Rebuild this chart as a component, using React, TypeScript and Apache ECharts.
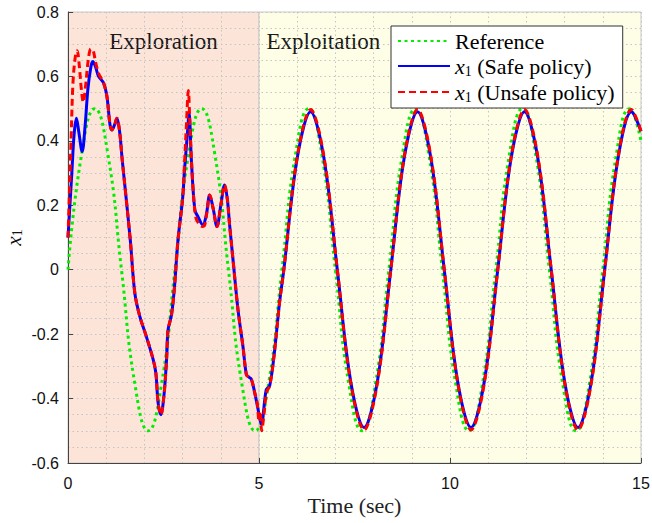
import React, { useEffect, useRef } from 'react';
import * as echarts from 'echarts';

// Reference trajectory (green dotted)
const refT = [0, 0.35, 0.7, 1.05, 1.4, 1.75, 2.1, 2.45, 2.8, 3.15, 3.5, 3.85, 4.2, 4.55, 4.9, 5.25, 5.6, 5.95, 6.3, 6.65, 7, 7.35, 7.7, 8.05, 8.4, 8.75, 9.1, 9.45, 9.8, 10.15, 10.5, 10.85, 11.2, 11.55, 11.9, 12.25, 12.6, 12.95, 13.3, 13.65, 14, 14.35, 14.7, 15];
const refY = [0, 0.354, 0.5, 0.354, 0, -0.354, -0.5, -0.354, 0, 0.354, 0.5, 0.354, 0, -0.354, -0.5, -0.354, 0, 0.354, 0.5, 0.354, 0, -0.354, -0.5, -0.354, 0, 0.354, 0.5, 0.354, 0, -0.354, -0.5, -0.354, 0, 0.354, 0.5, 0.354, 0, -0.354, -0.5, -0.354, 0, 0.354, 0.5, 0.4];

// x1 with the safe policy (blue solid)
const safeT = [0, 0.05, 0.1, 0.16, 0.22, 0.28, 0.37, 0.45, 0.52, 0.6, 0.65, 0.72, 0.8, 0.93, 1.02, 1.1, 1.15, 1.22, 1.28, 1.35, 1.42, 1.5, 1.63, 1.75, 1.88, 2.05, 2.23, 2.3, 2.36, 2.43, 2.51, 2.58, 2.62, 2.71, 2.79, 2.88, 3.0, 3.05, 3.12, 3.17, 3.23, 3.32, 3.4, 3.53, 3.62, 3.71, 3.8, 3.9, 4.0, 4.1, 4.17, 4.23, 4.32, 4.45, 4.58, 4.67, 4.73, 4.8, 4.89, 4.97, 5.06, 5.19, 5.28, 5.4, 5.54, 5.65, 6.0, 6.35, 6.7, 7.05, 7.4, 7.75, 8.1, 8.45, 8.8, 9.15, 9.5, 9.85, 10.2, 10.55, 10.9, 11.25, 11.6, 11.95, 12.3, 12.65, 13.0, 13.35, 13.7, 14.05, 14.4, 14.75, 15];
const safeY = [0.1, 0.2, 0.3, 0.42, 0.47, 0.43, 0.367, 0.45, 0.56, 0.63, 0.646, 0.63, 0.6, 0.58, 0.537, 0.45, 0.434, 0.45, 0.47, 0.43, 0.34, 0.248, 0.093, -0.073, -0.145, -0.207, -0.279, -0.321, -0.414, -0.45, -0.393, -0.279, -0.186, -0.14, -0.05, 0.093, 0.22, 0.31, 0.413, 0.486, 0.34, 0.186, 0.165, 0.139, 0.17, 0.232, 0.19, 0.134, 0.2, 0.263, 0.22, 0.14, 0.031, -0.124, -0.238, -0.326, -0.333, -0.34, -0.383, -0.43, -0.48, -0.372, -0.36, -0.26, -0.1, 0, 0.346, 0.49, 0.346, 0, -0.346, -0.49, -0.346, 0, 0.346, 0.49, 0.346, 0, -0.346, -0.49, -0.346, 0, 0.346, 0.49, 0.346, 0, -0.346, -0.49, -0.346, 0, 0.346, 0.49, 0.43];

// x1 with the unsafe policy (red dashed)
const unsafeT = [0, 0.04, 0.08, 0.13, 0.19, 0.24, 0.29, 0.35, 0.4, 0.46, 0.53, 0.6, 0.66, 0.72, 0.8, 0.93, 1.02, 1.1, 1.15, 1.22, 1.28, 1.35, 1.42, 1.5, 1.63, 1.75, 1.88, 2.05, 2.23, 2.3, 2.36, 2.43, 2.51, 2.58, 2.62, 2.71, 2.79, 2.88, 3.0, 3.05, 3.1, 3.15, 3.2, 3.27, 3.35, 3.45, 3.52, 3.58, 3.65, 3.71, 3.8, 3.9, 4.0, 4.1, 4.17, 4.23, 4.32, 4.45, 4.58, 4.67, 4.73, 4.8, 4.89, 4.95, 5.0, 5.03, 5.07, 5.12, 5.2, 5.28, 5.4, 5.54, 5.65, 6.0, 6.35, 6.7, 7.05, 7.4, 7.75, 8.1, 8.45, 8.8, 9.15, 9.5, 9.85, 10.2, 10.55, 10.9, 11.25, 11.6, 11.95, 12.3, 12.65, 13.0, 13.35, 13.7, 14.05, 14.4, 14.75, 15];
const unsafeY = [0.1, 0.25, 0.4, 0.58, 0.66, 0.68, 0.64, 0.56, 0.52, 0.57, 0.65, 0.685, 0.68, 0.645, 0.61, 0.58, 0.537, 0.45, 0.434, 0.45, 0.47, 0.43, 0.34, 0.248, 0.093, -0.073, -0.145, -0.207, -0.279, -0.321, -0.414, -0.45, -0.393, -0.279, -0.186, -0.14, -0.05, 0.093, 0.22, 0.33, 0.45, 0.556, 0.42, 0.26, 0.16, 0.14, 0.134, 0.139, 0.19, 0.232, 0.19, 0.134, 0.2, 0.263, 0.22, 0.14, 0.031, -0.124, -0.238, -0.326, -0.333, -0.34, -0.383, -0.41, -0.47, -0.44, -0.5, -0.46, -0.38, -0.36, -0.26, -0.1, 0, 0.351, 0.497, 0.351, 0, -0.351, -0.497, -0.351, 0, 0.351, 0.497, 0.351, 0, -0.351, -0.497, -0.351, 0, 0.351, 0.497, 0.351, 0, -0.351, -0.497, -0.351, 0, 0.351, 0.497, 0.43];

// Phases
const phaseNames = ['Exploration', 'Exploitation'];
const phaseBounds = [[0, 5], [5, 15]];

const xTicks = { min: 0, max: 15, interval: 5 };
const yTicks = { min: -0.6, max: 0.8, interval: 0.2 };

const SERIF = 'Liberation Serif';
const SANS = 'Liberation Sans';

const zip = (t: number[], y: number[]) => t.map((v, i) => [v, y[i]]);

const legendRich = {
  i: { fontFamily: SERIF, fontStyle: 'italic', fontSize: 22, color: '#000', lineHeight: 24 },
  s: { fontFamily: SERIF, fontSize: 14, color: '#000', lineHeight: 24, padding: [10, 0, 0, 0] },
  n: { fontFamily: SERIF, fontSize: 22, color: '#000', lineHeight: 24 },
};
const nameRich = {
  i: { fontFamily: SERIF, fontStyle: 'italic', fontSize: 21, color: '#111', lineHeight: 20 },
  s: { fontFamily: SERIF, fontSize: 14, color: '#111', lineHeight: 20, padding: [6, 0, 0, 0] },
};

export default function App() {
  const ref = useRef<HTMLDivElement>(null);
  useEffect(() => {
    if (!ref.current) return;
    const chart = echarts.init(ref.current, undefined, { renderer: 'svg' });
    const gridLine = { color: '#c4c4c4', type: [1.5, 3] as any, width: 1 };
    const phaseLabel = {
      show: true,
      verticalAlign: 'top',
      fontFamily: SERIF,
      fontSize: 23,
      color: '#1a1a1a',
    };
    const option: any = {
      animation: false,
      backgroundColor: '#ffffff',
      grid: { left: 68, right: 11, top: 12, bottom: 60, containLabel: false, outerBoundsMode: 'none' },
      legend: {
        orient: 'vertical',
        left: 391,
        top: 26,
        padding: [4, 8, 4, 6],
        backgroundColor: '#ffffff',
        borderColor: '#333333',
        borderWidth: 1,
        borderRadius: 0,
        itemWidth: 52,
        itemHeight: 14,
        itemGap: 2,
        selectedMode: false,
        itemStyle: { opacity: 0 },
        data: ['Reference', 'Safe', 'Unsafe'],
        formatter: (name: string) => {
          if (name === 'Reference') return '{n|Reference}';
          if (name === 'Safe') return '{i|x}{s|1}{n| (Safe policy)}';
          return '{i|x}{s|1}{n| (Unsafe policy)}';
        },
        textStyle: { fontFamily: SERIF, fontSize: 22, color: '#000', rich: legendRich },
      },
      xAxis: {
        type: 'value',
        min: xTicks.min,
        max: xTicks.max,
        interval: xTicks.interval,
        name: 'Time (sec)',
        nameLocation: 'middle',
        nameGap: 31,
        nameMoveOverlap: false,
        nameTextStyle: { fontFamily: SERIF, fontSize: 22, color: '#222' },
        axisLine: { show: true, onZero: false, lineStyle: { color: '#444', width: 1 } },
        axisTick: { show: true, inside: true, length: 5, lineStyle: { color: '#444' } },
        axisLabel: { fontFamily: SANS, fontSize: 16, color: '#111', margin: 12 },
        splitLine: { show: true, lineStyle: gridLine },
        minorTick: { show: false, splitNumber: 5 },
        minorSplitLine: { show: true, lineStyle: gridLine },
      },
      yAxis: {
        type: 'value',
        min: yTicks.min,
        max: yTicks.max,
        interval: yTicks.interval,
        name: '{i|x}{s|1}',
        nameLocation: 'middle',
        nameRotate: 90,
        nameGap: 44,
        nameMoveOverlap: false,
        nameTextStyle: { fontFamily: SERIF, fontSize: 21, color: '#111', rich: nameRich },
        axisLine: { show: true, onZero: false, lineStyle: { color: '#444', width: 1 } },
        axisTick: { show: true, inside: true, length: 5, lineStyle: { color: '#444' } },
        axisLabel: {
          fontFamily: SANS,
          fontSize: 16,
          color: '#111',
          margin: 9,
          formatter: (v: number) => (Math.abs(v) < 1e-9 ? '0' : v.toFixed(1)),
        },
        splitLine: { show: true, lineStyle: gridLine },
        minorTick: { show: false, splitNumber: 4 },
        minorSplitLine: { show: true, lineStyle: gridLine },
      },
      series: [
        {
          type: 'line',
          name: 'phases',
          data: [[0, 0]],
          symbol: 'none',
          lineStyle: { opacity: 0 },
          z: -1,
          silent: true,
          markArea: {
            silent: true,
            z: -1,
            data: [
              [
                {
                  name: phaseNames[0],
                  xAxis: phaseBounds[0][0],
                  itemStyle: { color: '#fde4d8', borderColor: '#c8c8c8', borderWidth: 1 },
                  label: { ...phaseLabel, position: ['50%', 18], align: 'center' },
                },
                { xAxis: phaseBounds[0][1] },
              ],
              [
                {
                  name: phaseNames[1],
                  xAxis: phaseBounds[1][0],
                  itemStyle: { color: '#fefee6', borderColor: '#c8c8c8', borderWidth: 1 },
                  label: { ...phaseLabel, position: [8, 18], align: 'left' },
                },
                { xAxis: phaseBounds[1][1] },
              ],
            ],
          },
        },
        {
          type: 'line',
          name: 'Reference',
          data: zip(refT, refY),
          smooth: true,
          symbol: 'none',
          z: 2,
          lineStyle: { color: '#00ee00', width: 3, type: [3, 3.5] },
          itemStyle: { color: '#00ee00' },
        },
        {
          type: 'line',
          name: 'Safe',
          data: zip(safeT, safeY),
          smooth: 0.35,
          symbol: 'none',
          z: 3,
          lineStyle: { color: '#0000ff', width: 3 },
          itemStyle: { color: '#0000ff' },
        },
        {
          type: 'line',
          name: 'Unsafe',
          data: zip(unsafeT, unsafeY),
          smooth: 0.35,
          symbol: 'none',
          z: 4,
          lineStyle: { color: '#ff0000', width: 3, type: [7, 4] },
          itemStyle: { color: '#ff0000' },
        },
      ],
    };
    chart.setOption(option);
    return () => chart.dispose();
  }, []);
  return (
    <div
      ref={ref}
      style={{ position: 'fixed', left: 0, top: 0, width: 652, height: 523, background: '#fff' }}
    />
  );
}
